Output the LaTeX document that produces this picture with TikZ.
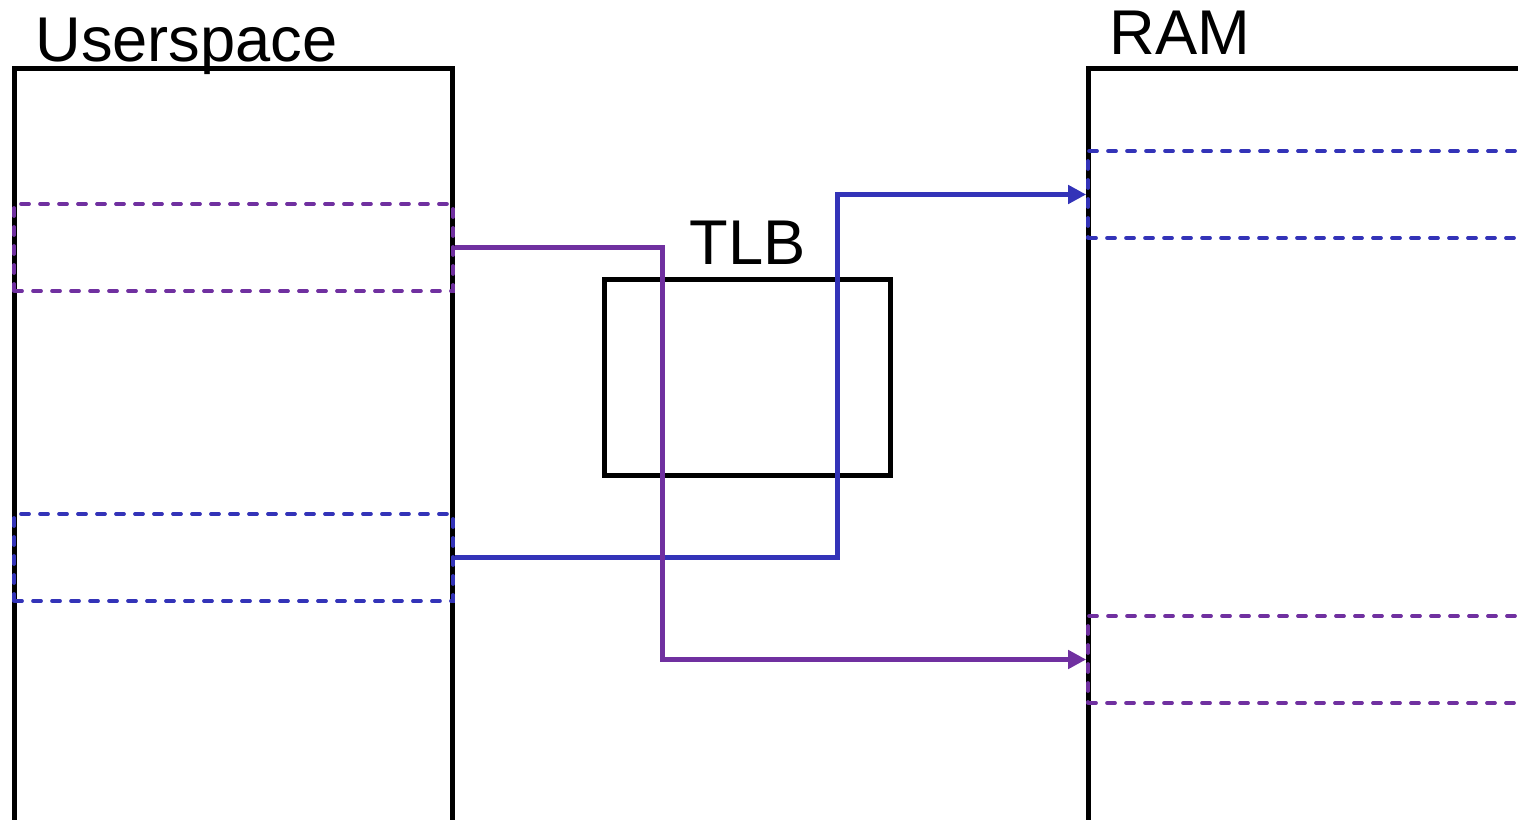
\documentclass[tikz,border=0pt]{standalone}
\usepackage{fontspec}
\setmainfont{Liberation Sans}
\usetikzlibrary{arrows.meta,positioning}
\definecolor{pagepurple}{HTML}{7030A0}
\definecolor{pageblue}{HTML}{3333B8}

\tikzset{
  membox/.style={draw=black,line width=0.1cm,minimum width=#1,minimum height=16.64cm,inner sep=0pt},
  pagebox/.style={draw=#1,line width=0.075cm,dash pattern=on 0.16cm off 0.22cm,line cap=round,
    minimum height=1.74cm,inner sep=0pt},
  lbl/.style={font=\fontsize{36}{40}\selectfont,inner sep=0pt},
  maplink/.style={draw=#1,line width=0.1cm,-{Triangle[length=0.36cm,width=0.36cm]}}
}

\begin{document}
\begin{tikzpicture}[x=0.02cm,y=-0.02cm]
  \useasboundingbox (0,0) rectangle (1518,820);
  \clip (0,0) rectangle (1518,820);
  % Address spaces
  \node[membox=8.78cm] (user) at (233.5,484) {};
  \node[membox=10.24cm] (ram) at (1344,484) {};
  \node[draw=black,line width=0.1cm,minimum width=5.74cm,minimum height=3.94cm] (tlb) at (747.5,377.5) {};
  % Labels
  \node[lbl,anchor=base west] (userlbl) at (35,62) {Userspace};
  \node[lbl,anchor=base west] (ramlbl) at (1109,55) {RAM};
  \node[lbl,anchor=base west] (tlblbl) at (689,265) {TLB};
  % Pages
  \node[pagebox=pagepurple,minimum width=8.78cm] (upurple) at (233.5,247.5) {};
  \node[pagebox=pageblue,minimum width=8.78cm] (ublue) at (233.5,557.5) {};
  \node[pagebox=pageblue,minimum width=10.24cm] (rblue) at (1344,194.5) {};
  \node[pagebox=pagepurple,minimum width=10.24cm] (rpurple) at (1344,659.5) {};
  % Translations
  \coordinate (bbend) at (837,557.5);
  \coordinate (pbend) at (662,247.5);
  \draw[maplink=pageblue] (ublue.east) -- (bbend) |- (rblue.west);
  \draw[maplink=pagepurple] (upurple.east) -- (pbend) |- (rpurple.west);
\end{tikzpicture}
\end{document}
